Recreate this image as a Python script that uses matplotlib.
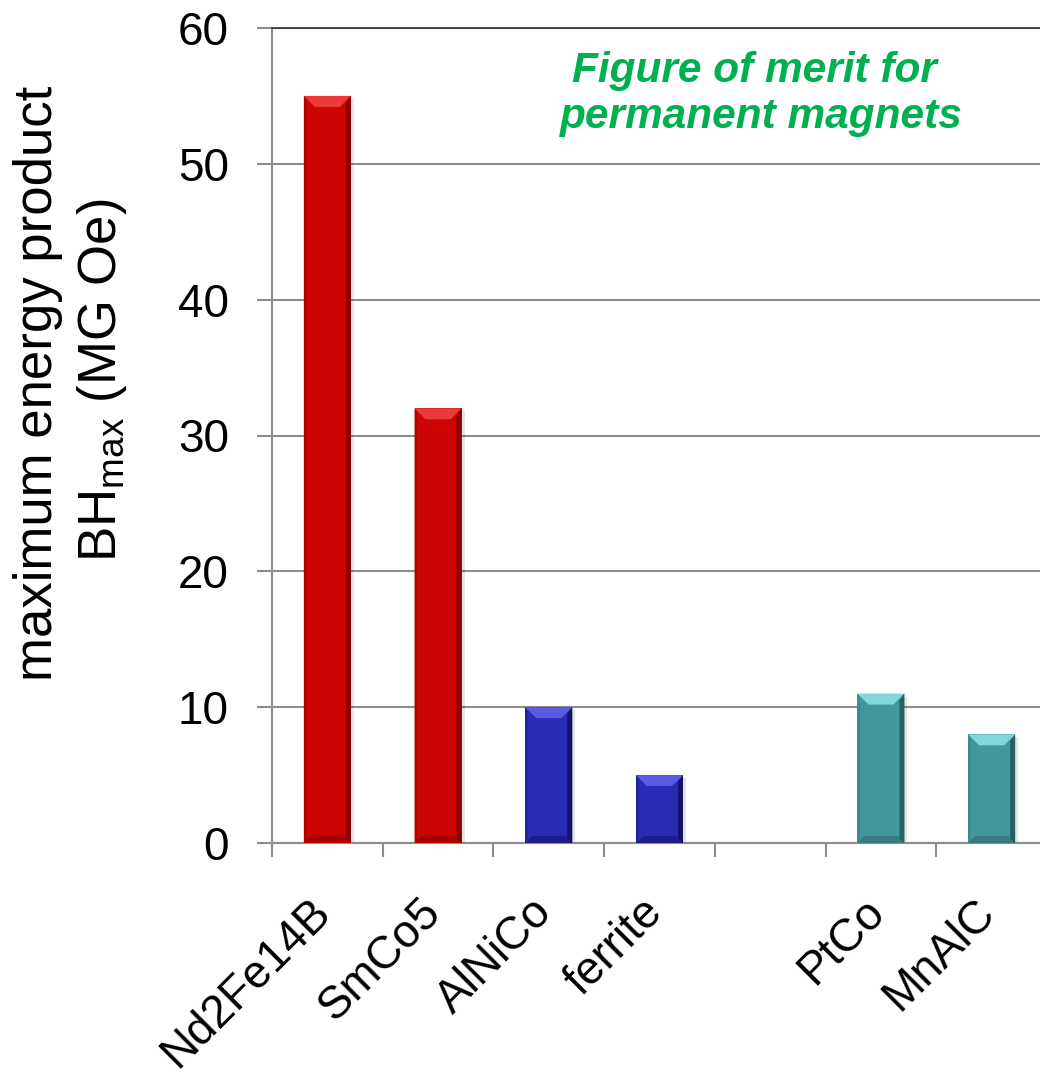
import matplotlib
matplotlib.use("Agg")
import matplotlib.pyplot as plt
import matplotlib.transforms as mtransforms
from matplotlib.patches import Polygon, Rectangle
import numpy as np

# --- data -------------------------------------------------------------
materials = ["Nd2Fe14B", "SmCo5", "AlNiCo", "ferrite", "", "PtCo", "MnAlC"]
bh_max = [55, 32, 10, 5, 0, 11, 8]          # MG Oe
families = ["rare", "rare", "classic", "classic", None, "new", "new"]
y_ticks = [0, 10, 20, 30, 40, 50, 60]

# --- styles -----------------------------------------------------------
palette = {
    "rare":    dict(body="#CC0404", top="#EC3A3A", side="#8A0000", bottom="#A80000", left="#B00202"),
    "classic": dict(body="#2A2AB4", top="#5A5AE6", side="#141466", bottom="#1E1E8A", left="#23239C"),
    "new":     dict(body="#42979B", top="#80D6DA", side="#275F62", bottom="#357B7E", left="#3A8A8E"),
}
grid_grey = "#8C8C8C"
font = "Liberation Sans"
plt.rcParams["font.family"] = [font, "DejaVu Sans"]
plt.rcParams["mathtext.fontset"] = "custom"
plt.rcParams["mathtext.rm"] = font
plt.rcParams["mathtext.it"] = font + ":italic"

W, H, DPI = 1040, 1076, 100
fig = plt.figure(figsize=(W / DPI, H / DPI), dpi=DPI)
ax = fig.add_axes([272 / W, 1 - 843 / H, 775 / W, 815 / H])

x = np.arange(len(materials))
bar_w = 0.425
ax.set_xlim(-0.5, len(materials) - 0.5)
ax.set_ylim(0, 60)

# grid and axes frame
ax.set_yticks(y_ticks)
ax.yaxis.grid(True, color=grid_grey, lw=1.5, zorder=0)
ax.set_axisbelow(True)
ax.spines["right"].set_visible(False)
ax.spines["top"].set_color("#303030")
ax.spines["top"].set_linewidth(1.2)
for side in ("left", "bottom"):
    ax.spines[side].set_color(grid_grey)
    ax.spines[side].set_linewidth(1.5)

ax.tick_params(axis="y", direction="out", length=11, width=1.5, color=grid_grey,
               labelsize=33, pad=20)
ax.set_xticks(x)
ax.set_xticks(np.arange(len(materials) + 1) - 0.5, minor=True)
ax.tick_params(axis="x", which="minor", direction="out", length=10, width=1.5, color=grid_grey)
ax.tick_params(axis="x", which="major", length=0, labelsize=33, pad=34)
ax.set_xticklabels(materials, rotation=45, ha="right")
shift = mtransforms.ScaledTranslation(12 / DPI, 0, fig.dpi_scale_trans)
for lab in ax.get_xticklabels():
    lab.set_transform(lab.get_transform() + shift)

# --- bevelled bars ----------------------------------------------------
fig.canvas.draw()
inv = ax.transData.inverted()
def px_to_data(dx, dy):
    p0 = inv.transform((0, 0))
    p1 = inv.transform((dx, dy))
    return p1[0] - p0[0], p1[1] - p0[1]

bevel_x, bevel_y = px_to_data(11, 11)
side_x, _ = px_to_data(5, 0)
left_x, _ = px_to_data(2.5, 0)
bot_x, bot_y = px_to_data(7, 7)
sh_x, sh_y = px_to_data(3, 3)

for xi, val, fam in zip(x, bh_max, families):
    if fam is None or val <= 0:
        continue
    c = palette[fam]
    x0, x1 = xi - bar_w / 2, xi + bar_w / 2
    # soft shadow
    ax.add_patch(Rectangle((x0 + sh_x * 0.5, -sh_y), bar_w + sh_x * 0.5, val,
                           facecolor="#000000", alpha=0.10, lw=0, zorder=2))
    ax.bar(xi, val, width=bar_w, color=c["body"], lw=0, zorder=3)
    # top face
    ax.add_patch(Polygon([(x0, val), (x1, val), (x1 - bevel_x, val - bevel_y),
                          (x0 + bevel_x, val - bevel_y)], closed=True,
                         facecolor=c["top"], lw=0, zorder=4))
    # bottom face
    ax.add_patch(Polygon([(x0, 0), (x1, 0), (x1 - bot_x, bot_y), (x0 + bot_x, bot_y)],
                         closed=True, facecolor=c["bottom"], lw=0, zorder=4))
    # right edge
    ax.add_patch(Polygon([(x1, val), (x1, 0), (x1 - side_x, bot_y * 0.6),
                          (x1 - side_x, val - bevel_y * 0.6)], closed=True,
                         facecolor=c["side"], lw=0, zorder=5))
    # left edge
    ax.add_patch(Polygon([(x0, val), (x0, 0), (x0 + left_x, bot_y * 0.4),
                          (x0 + left_x, val - bevel_y * 0.4)], closed=True,
                         facecolor=c["left"], lw=0, zorder=5))

# --- texts ------------------------------------------------------------
def fx(px):
    return px / W
def fy(py):
    return 1 - py / H

fig.text(fx(52), fy(383), "maximum energy product", rotation=90, fontsize=38,
         ha="center", va="baseline", rotation_mode="anchor")
fig.text(fx(116), fy(380), r"BH$_{\mathrm{max}}$ (MG Oe)", rotation=90, fontsize=38,
         ha="center", va="baseline", rotation_mode="anchor")

title_kw = dict(fontsize=30.5, fontweight="bold", fontstyle="italic", color="#00B050",
                ha="center", va="baseline")
fig.text(fx(754), fy(82), "Figure of merit for", **title_kw)
fig.text(fx(761), fy(128), "permanent magnets", **title_kw)

fig.savefig("out.png", dpi=DPI)
